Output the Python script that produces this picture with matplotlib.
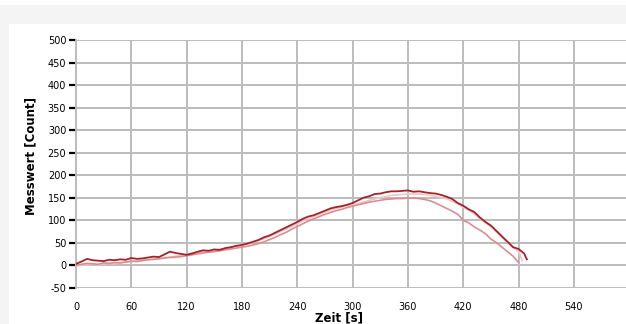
import numpy as np
import matplotlib.pyplot as plt
from matplotlib.patches import Rectangle

plt.rcParams['axes.unicode_minus'] = False

# time axis in seconds (every 6 s, last point at the end of each run)
t_dark = [0, 6, 12, 18, 24, 30, 36, 42, 48, 54, 60, 66, 72, 78, 84, 90, 96, 102, 108, 114,
          120, 126, 132, 138, 144, 150, 156, 162, 168, 174, 180, 186, 192, 198, 204, 210,
          216, 222, 228, 234, 240, 246, 252, 258, 264, 270, 276, 282, 288, 294, 300, 306,
          312, 318, 324, 330, 336, 342, 348, 354, 360, 366, 372, 378, 384, 390, 396, 402,
          408, 414, 420, 426, 432, 438, 444, 450, 456, 462, 468, 474, 480, 486, 489]
v_dark = [3, 8, 14, 11, 10, 9, 12, 11, 13, 12, 16, 14, 15, 17, 19, 18, 24, 30, 27, 25,
          23, 26, 30, 33, 32, 35, 34, 38, 40, 43, 45, 48, 52, 56, 62, 66,
          72, 78, 84, 90, 96, 103, 108, 111, 116, 121, 126, 129, 131, 134, 138, 144,
          150, 153, 158, 159, 162, 164, 164, 165, 166, 163, 164, 162, 160, 159, 156, 152,
          147, 138, 132, 124, 118, 106, 96, 88, 76, 64, 52, 40, 36, 26, 13]

t_light = [0, 6, 12, 18, 24, 30, 36, 42, 48, 54, 60, 66, 72, 78, 84, 90, 96, 102, 108, 114,
           120, 126, 132, 138, 144, 150, 156, 162, 168, 174, 180, 186, 192, 198, 204, 210,
           216, 222, 228, 234, 240, 246, 252, 258, 264, 270, 276, 282, 288, 294, 300, 306,
           312, 318, 324, 330, 336, 342, 348, 354, 360, 366, 372, 378, 384, 390, 396, 402,
           408, 414, 420, 426, 432, 438, 444, 450, 456, 462, 468, 474, 480, 484]
v_light = [-2, 0, 1, 2, 1, 3, 4, 3, 6, 7, 8, 10, 11, 12, 14, 15, 17, 18, 20, 22,
           24, 26, 28, 30, 32, 33, 35, 37, 39, 42, 44, 47, 51, 55, 59, 64,
           69, 75, 80, 86, 92, 98, 103, 108, 113, 118, 122, 126, 129, 132, 134, 137,
           140, 144, 147, 150, 152, 155, 156, 157, 158, 158, 158, 157, 155, 153, 150, 147,
           142, 136, 128, 122, 114, 104, 95, 85, 74, 62, 50, 40, 30, 10]

t_mid = [0, 6, 12, 18, 24, 30, 36, 42, 48, 54, 60, 66, 72, 78, 84, 90, 96, 102, 108, 114,
         120, 126, 132, 138, 144, 150, 156, 162, 168, 174, 180, 186, 192, 198, 204, 210,
         216, 222, 228, 234, 240, 246, 252, 258, 264, 270, 276, 282, 288, 294, 300, 306,
         312, 318, 324, 330, 336, 342, 348, 354, 360, 366, 372, 378, 384, 390, 396, 402,
         408, 414, 420, 426, 432, 438, 444, 450, 456, 462, 468, 474, 480]
v_mid = [0, 2, 4, 3, 2, 5, 4, 6, 5, 7, 9, 8, 10, 12, 13, 14, 16, 17, 18, 19,
         21, 23, 25, 27, 29, 30, 32, 34, 36, 38, 40, 42, 45, 48, 52, 57,
         62, 68, 73, 80, 86, 92, 98, 103, 108, 113, 117, 121, 124, 128, 131, 134,
         137, 140, 142, 144, 146, 147, 148, 148, 149, 149, 148, 146, 143, 138, 132, 126,
         120, 113, 100, 94, 85, 78, 70, 58, 50, 40, 30, 20, 6]

x_ticks = [0, 60, 120, 180, 240, 300, 360, 420, 480, 540]
y_ticks = [-50, 0, 50, 100, 150, 200, 250, 300, 350, 400, 450, 500]

fig = plt.figure(figsize=(6.26, 3.24), dpi=100, facecolor='#f4f4f4')
# white panel and white top strip
fig.patches.append(Rectangle((9 / 626, 0), 1, 300 / 324, transform=fig.transFigure,
                             facecolor='white', edgecolor='none', zorder=-2))
fig.patches.append(Rectangle((0, 319 / 324), 1, 5 / 324, transform=fig.transFigure,
                             facecolor='white', edgecolor='none', zorder=-2))

ax = fig.add_axes([76 / 626, 36.3 / 324, 550 / 626, 247.7 / 324])
ax.set_zorder(1)
ax.set_facecolor('white')

ax.plot(t_light, v_light, color='#efc6c8', lw=1.2, zorder=3)
ax.plot(t_mid, v_mid, color='#d98e91', lw=1.2, zorder=4)
ax.plot(t_dark, v_dark, color='#a3232a', lw=1.3, zorder=5)

ax.set_xlim(0, 596.5)
ax.set_ylim(-50, 500)
ax.set_xticks(x_ticks)
ax.set_yticks(y_ticks)
ax.grid(True, color='#bcbcbc', lw=1.4)
ax.set_axisbelow(True)

for side in ['top', 'right', 'bottom']:
    ax.spines[side].set_visible(False)
ax.spines['left'].set_color('#bcbcbc')
ax.spines['left'].set_linewidth(1.4)

ax.tick_params(axis='y', length=5, width=1.6, color='black', labelsize=7, pad=2)
ax.tick_params(axis='x', length=0, labelsize=7, pad=10)

fig.text(339 / 626, 1 - 318 / 324, 'Zeit [s]', ha='center', va='center',
         fontsize=8.5, fontweight='bold')
fig.text(31 / 626, 1 - 156 / 324, 'Messwert [Count]', ha='center', va='center',
         rotation=90, fontsize=8.5, fontweight='bold')

fig.savefig('out.png', dpi=100, facecolor=fig.get_facecolor())
